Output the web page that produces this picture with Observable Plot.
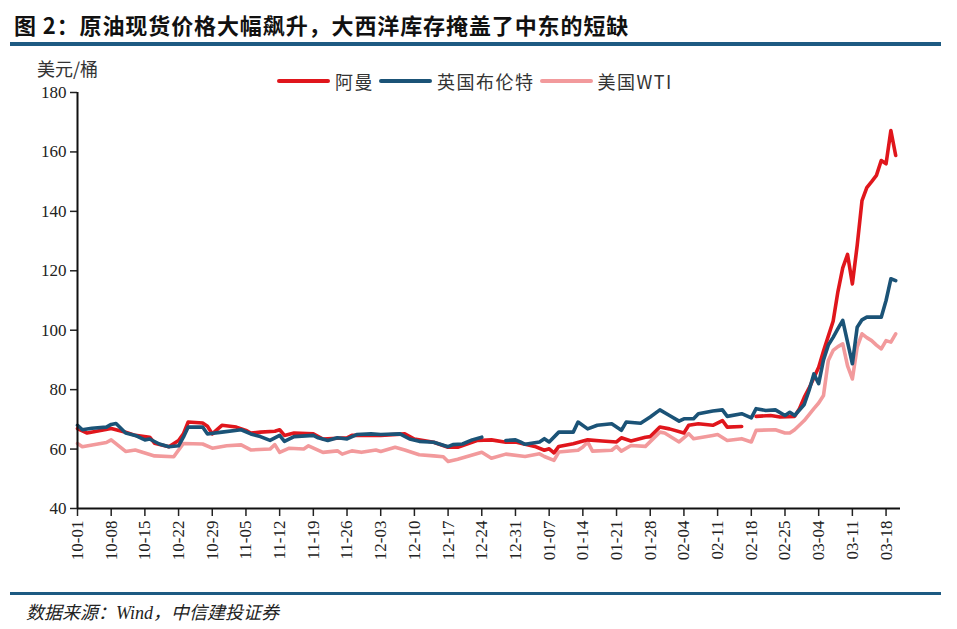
<!DOCTYPE html>
<html>
<head>
<meta charset="utf-8">
<script src="https://cdn.jsdelivr.net/npm/d3@7"></script>
<script src="https://cdn.jsdelivr.net/npm/@observablehq/plot@0.6"></script>
<style>
  html, body { margin: 0; padding: 0; background: #fff; }
  #wrap { position: relative; width: 957px; height: 629px; overflow: hidden; background: #fff; }
  .abs { position: absolute; }
  .top { z-index: 2; }
  #title { left: 14px; top: 8px; font-family: "Noto Sans CJK SC", sans-serif; font-weight: bold; font-size: 22px; color: #111; white-space: nowrap; letter-spacing: 0.9px; }
  #rule1 { left: 10px; top: 42px; width: 931px; height: 4px; background: #1d5a82; }
  #unit { left: 37px; top: 55px; font-family: "Noto Sans CJK SC", sans-serif; font-size: 18px; color: #333; white-space: nowrap; }
  #legend { left: 277px; top: 62px; font-family: "Noto Sans CJK SC", sans-serif; font-size: 18px; color: #333; white-space: nowrap; letter-spacing: 1.5px; }
  #legend .item { display: inline-flex; align-items: center; margin-right: 5px; }
  #legend .sw { display: inline-block; width: 53px; height: 4px; border-radius: 2px; margin-right: 5px; }
  #chart { left: 0; top: 50px; z-index: 1; }
  #rule2 { left: 10px; top: 592px; width: 931px; height: 3px; background: #1d5a82; }
  #source { left: 26px; top: 598px; font-family: "Liberation Serif", "Noto Sans CJK SC", serif; font-style: italic; font-size: 18px; color: #222; white-space: nowrap; }
</style>
</head>
<body>
<div id="wrap">
  <div id="chart" class="abs"></div>
  <div id="title" class="abs top">图 2：原油现货价格大幅飙升，大西洋库存掩盖了中东的短缺</div>
  <div id="rule1" class="abs top"></div>
  <div id="unit" class="abs top">美元/桶</div>
  <div id="legend" class="abs top"></div>
  <div id="rule2" class="abs top"></div>
  <div id="source" class="abs top">数据来源：Wind，中信建投证券</div>
</div>
<script>
// ---- data ----
const seriesNames = ["阿曼", "英国布伦特", "美国WTI"];
const seriesColors = ["#e0161c", "#1b5377", "#f29a9c"];

const yTicks = [40, 60, 80, 100, 120, 140, 160, 180];
const xTickDates = ["2025-10-01","2025-10-08","2025-10-15","2025-10-22","2025-10-29","2025-11-05","2025-11-12","2025-11-19","2025-11-26","2025-12-03","2025-12-10","2025-12-17","2025-12-24","2025-12-31","2026-01-07","2026-01-14","2026-01-21","2026-01-28","2026-02-04","2026-02-11","2026-02-18","2026-02-25","2026-03-04","2026-03-11","2026-03-18"];
const xDomain = ["2025-10-01", "2026-03-21"];

const omanDates = ["2025-10-01","2025-10-03","2025-10-08","2025-10-11","2025-10-13","2025-10-16","2025-10-17","2025-10-20","2025-10-22","2025-10-23","2025-10-24","2025-10-27","2025-10-28","2025-10-29","2025-10-31","2025-11-03","2025-11-05","2025-11-06","2025-11-08","2025-11-11","2025-11-12","2025-11-13","2025-11-15","2025-11-19","2025-11-21","2025-11-26","2025-11-27","2025-12-03","2025-12-08","2025-12-10","2025-12-14","2025-12-17","2025-12-19","2025-12-23","2025-12-26","2025-12-29","2025-12-31","2026-01-02","2026-01-04","2026-01-06","2026-01-07","2026-01-08","2026-01-09","2026-01-12","2026-01-15","2026-01-18","2026-01-21","2026-01-22","2026-01-24","2026-01-27","2026-01-28","2026-01-30","2026-02-01","2026-02-04","2026-02-05","2026-02-07","2026-02-10","2026-02-12","2026-02-13","2026-02-16","2026-02-17","2026-02-19","2026-02-22","2026-02-24","2026-02-27","2026-02-28","2026-03-01","2026-03-02","2026-03-03","2026-03-04","2026-03-05","2026-03-06","2026-03-07","2026-03-08","2026-03-09","2026-03-10","2026-03-11","2026-03-12","2026-03-13","2026-03-14","2026-03-15","2026-03-16","2026-03-17","2026-03-18","2026-03-19","2026-03-20"];
const omanValues = [66.9,65.4,66.9,65.7,64.6,64.0,62.0,60.8,62.9,65.1,69.1,68.8,67.7,65.1,68.0,67.4,66.3,65.4,65.7,66.0,66.5,64.6,65.4,65.1,63.4,63.8,64.6,64.6,65.1,63.4,62.3,60.6,60.6,62.9,63.1,62.3,62.4,61.6,60.9,59.6,60.1,58.7,60.9,61.8,63.1,62.7,62.4,63.8,62.7,64.0,64.2,67.4,66.8,65.4,68.0,68.5,68.0,69.6,67.4,67.6,null,71.0,71.3,70.8,71.0,73.6,77.4,80.5,84.0,87.5,93.0,98.0,103.0,113.0,121.0,125.5,115.6,128.5,143.6,148.0,150.0,152.1,157.1,156.0,167.2,158.8];

const brentDates = ["2025-10-01","2025-10-02","2025-10-04","2025-10-07","2025-10-08","2025-10-09","2025-10-11","2025-10-13","2025-10-15","2025-10-16","2025-10-18","2025-10-20","2025-10-22","2025-10-23","2025-10-24","2025-10-27","2025-10-28","2025-10-31","2025-11-04","2025-11-06","2025-11-08","2025-11-10","2025-11-12","2025-11-13","2025-11-15","2025-11-19","2025-11-20","2025-11-22","2025-11-24","2025-11-26","2025-11-28","2025-12-01","2025-12-03","2025-12-07","2025-12-09","2025-12-11","2025-12-14","2025-12-17","2025-12-18","2025-12-20","2025-12-22","2025-12-24","2025-12-26","2025-12-29","2025-12-31","2026-01-01","2026-01-02","2026-01-05","2026-01-06","2026-01-07","2026-01-09","2026-01-12","2026-01-13","2026-01-15","2026-01-17","2026-01-20","2026-01-22","2026-01-23","2026-01-26","2026-01-28","2026-01-30","2026-02-01","2026-02-03","2026-02-04","2026-02-06","2026-02-07","2026-02-10","2026-02-12","2026-02-13","2026-02-16","2026-02-18","2026-02-19","2026-02-21","2026-02-23","2026-02-25","2026-02-26","2026-02-27","2026-03-01","2026-03-02","2026-03-03","2026-03-04","2026-03-05","2026-03-06","2026-03-07","2026-03-08","2026-03-09","2026-03-10","2026-03-11","2026-03-12","2026-03-13","2026-03-14","2026-03-17","2026-03-18","2026-03-19","2026-03-20"];
const brentValues = [68.0,66.5,67.0,67.4,68.3,68.6,65.4,64.6,63.1,63.4,61.7,60.8,61.1,64.0,67.4,67.4,65.1,65.7,66.5,65.1,64.2,62.9,64.6,62.6,64.2,64.6,63.8,62.9,63.8,63.4,64.9,65.1,64.9,65.1,63.4,62.6,62.3,60.8,61.5,61.7,63.1,64.0,null,62.9,63.1,62.4,61.6,62.4,63.5,62.4,65.7,65.7,69.1,66.8,68.0,68.5,66.3,69.1,68.7,70.8,73.2,71.3,69.4,70.2,70.2,71.9,72.8,73.2,71.0,71.9,70.5,73.6,73.0,73.2,71.3,72.4,71.3,75.0,79.7,85.3,82.0,90.0,95.0,97.6,100.5,103.3,96.0,88.7,101.0,103.5,104.4,104.4,110.0,117.3,116.7];

const wtiDates = ["2025-10-01","2025-10-02","2025-10-07","2025-10-08","2025-10-11","2025-10-13","2025-10-17","2025-10-21","2025-10-23","2025-10-27","2025-10-29","2025-11-01","2025-11-04","2025-11-06","2025-11-10","2025-11-11","2025-11-12","2025-11-14","2025-11-17","2025-11-18","2025-11-21","2025-11-24","2025-11-25","2025-11-27","2025-11-29","2025-12-02","2025-12-03","2025-12-06","2025-12-08","2025-12-11","2025-12-14","2025-12-16","2025-12-17","2025-12-19","2025-12-24","2025-12-26","2025-12-29","2026-01-02","2026-01-05","2026-01-06","2026-01-08","2026-01-09","2026-01-13","2026-01-14","2026-01-15","2026-01-16","2026-01-20","2026-01-21","2026-01-22","2026-01-24","2026-01-27","2026-01-30","2026-01-31","2026-02-03","2026-02-05","2026-02-06","2026-02-10","2026-02-11","2026-02-13","2026-02-16","2026-02-18","2026-02-19","2026-02-23","2026-02-25","2026-02-26","2026-02-27","2026-03-01","2026-03-03","2026-03-04","2026-03-05","2026-03-06","2026-03-07","2026-03-08","2026-03-09","2026-03-10","2026-03-11","2026-03-12","2026-03-13","2026-03-14","2026-03-15","2026-03-16","2026-03-17","2026-03-18","2026-03-19","2026-03-20"];
const wtiValues = [61.9,60.8,62.2,63.1,59.2,59.7,57.7,57.4,61.9,61.7,60.3,61.1,61.4,59.7,60.0,61.5,58.9,60.3,60.0,61.1,58.9,59.4,58.3,59.4,58.9,59.7,59.2,60.6,59.7,58.1,57.7,57.4,55.8,56.6,58.9,56.9,58.3,57.5,58.4,57.5,56.2,59.0,59.6,60.7,62.4,59.3,59.6,60.9,59.3,61.2,60.9,65.7,65.4,62.4,65.2,63.5,64.6,64.9,62.9,63.5,62.4,66.3,66.5,65.4,65.4,66.5,69.6,73.6,75.5,78.0,89.8,93.2,94.5,95.4,88.0,83.6,94.3,98.8,97.5,96.5,95.0,93.7,96.5,96.0,98.8];

// ---- build tables ----
const parse = d3.utcParse("%Y-%m-%d");
const toRows = (dates, values) => dates.map((d, i) => ({date: parse(d), value: values[i]}));
const tables = [toRows(omanDates, omanValues), toRows(brentDates, brentValues), toRows(wtiDates, wtiValues)];

// legend
const legend = document.getElementById("legend");
seriesNames.forEach((name, i) => {
  const item = document.createElement("span");
  item.className = "item";
  item.innerHTML = `<span class="sw" style="background:${seriesColors[i]}"></span>${name}`;
  legend.appendChild(item);
});

const lineStyle = {x: "date", y: "value", strokeWidth: 3.6, strokeLinejoin: "round", strokeLinecap: "round"};

const chart = Plot.plot({
  width: 957,
  height: 530,
  marginTop: 42,
  marginBottom: 72,
  marginLeft: 77,
  marginRight: 57,
  style: {fontFamily: "Liberation Serif, serif", fontSize: "17px", color: "#222", background: "transparent"},
  x: {type: "utc", domain: xDomain.map(parse)},
  y: {domain: [40, 180]},
  marks: [
    Plot.axisY({ticks: yTicks, tickSize: 7, tickPadding: 4, label: null, fontSize: 17, strokeWidth: 1.5}),
    Plot.axisX({ticks: xTickDates.map(parse), tickFormat: d3.utcFormat("%m-%d"), tickRotate: -90, tickSize: 8, tickPadding: 4, label: null, fontSize: 17, strokeWidth: 1.5}),
    Plot.line(tables[2], {...lineStyle, stroke: seriesColors[2]}),
    Plot.line(tables[0], {...lineStyle, stroke: seriesColors[0]}),
    Plot.line(tables[1], {...lineStyle, stroke: seriesColors[1]}),
    Plot.ruleY([40], {stroke: "#111", strokeWidth: 2}),
    Plot.ruleX([parse(xDomain[0])], {stroke: "#111", strokeWidth: 2})
  ]
});
document.getElementById("chart").appendChild(chart);
</script>
</body>
</html>
